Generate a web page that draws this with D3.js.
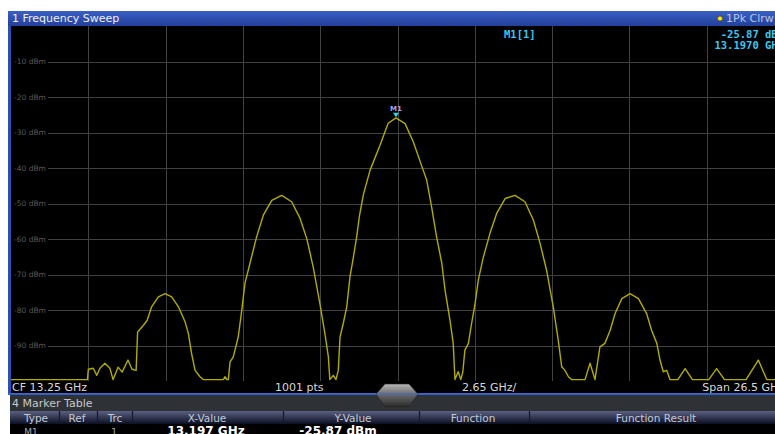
<!DOCTYPE html>
<html lang="en">
<head>
<meta charset="utf-8"/>
<title>Frequency Sweep</title>
<script src="https://d3js.org/d3.v7.min.js"></script>
<style>
  body { margin: 0; background: #fff; }
  svg { display: block; font-family: "DejaVu Sans", sans-serif; }
</style>
</head>
<body>
<div id="chart"></div>
<script>
// trace (GHz, dBm)
var freqGHz = [0, 2.62, 2.65, 2.82, 2.94, 3.05, 3.22, 3.39, 3.50, 3.67, 3.81, 4.01, 4.15, 4.29, 4.34, 4.54, 4.67, 4.82,
  5.05, 5.28, 5.51, 5.74, 5.97, 6.08, 6.19, 6.31, 6.48, 6.59, 7.28, 7.34, 7.40, 7.45, 7.51, 7.62, 7.79, 7.91, 8.02,
  8.19, 8.42, 8.65, 8.94, 9.28, 9.62, 9.91, 10.14, 10.36, 10.59, 10.76, 10.88, 10.93, 11.05, 11.14, 11.22, 11.28,
  11.39, 11.51, 11.62, 11.73, 11.85, 11.94, 12.08, 12.31, 12.65, 12.93, 13.197, 13.51, 13.79, 14.13, 14.25, 14.42,
  14.59, 14.77, 14.88, 15.05, 15.16, 15.22, 15.33, 15.42, 15.49, 15.56, 15.68, 15.79, 15.91, 16.02, 16.19, 16.42,
  16.65, 16.94, 17.28, 17.62, 17.91, 18.14, 18.36, 18.59, 18.76, 18.88, 18.99, 19.11, 19.22, 19.68, 19.85, 20.02,
  20.19, 20.36, 20.54, 20.71, 20.94, 21.22, 21.51, 21.79, 21.96, 22.14, 22.25, 22.36, 22.48, 22.59, 22.86, 23.11,
  23.36, 23.92, 24.19, 24.46, 25.20, 25.62, 25.91, 26.5];
var levelDbm = [-99.6, -99.6, -96.7, -96.4, -98.4, -96.4, -95.0, -96.4, -99.6, -96.1, -97.5, -94.1, -96.7, -97.0, -86.2, -84.3, -82.9, -79.1,
  -76.3, -75.4, -76.3, -79.1, -83.4, -86.6, -92.2, -97.0, -98.8, -99.6, -99.6, -98.8, -99.6, -99.6, -94.6, -93.2, -87.6, -80.1, -72.5,
  -66.9, -59.4, -53.3, -49.1, -47.7, -49.5, -54.2, -59.9, -67.9, -78.2, -86.6, -93.2, -99.6, -98.4, -99.6, -97.0, -87.6,
  -83.8, -79.1, -70.7, -65.5, -59.4, -53.8, -47.5, -40.6, -33.6, -27.4, -25.87, -27.5, -32.6, -40.6, -43.4, -51.0,
  -59.4, -66.9, -74.4, -82.9, -89.4, -99.6, -97.4, -99.6, -97.4, -91.3, -89.4, -83.8, -78.2, -71.6, -65.2, -58.4,
  -52.8, -48.6, -47.7, -49.5, -54.7, -61.3, -68.8, -79.1, -88.5, -96.0, -97.0, -98.8, -99.6, -99.6, -95.0, -99.6,
  -90.4, -89.4, -85.7, -81.0, -76.8, -75.4, -76.8, -81.0, -85.7, -89.4, -94.1, -97.4, -97.0, -99.6, -99.6, -96.5,
  -99.6, -99.6, -96.5, -99.6, -99.6, -94.1, -99.6, -99.6];

var levelTicks = [-10, -20, -30, -40, -50, -60, -70, -80, -90];
var freqGrid = [2.65, 5.3, 7.95, 10.6, 13.25, 15.9, 18.55, 21.2, 23.85];

var marker = {name: "M1", freq: 13.197, level: -25.87};
var tableHeads = ["Type", "Ref", "Trc", "X-Value", "Y-Value", "Function", "Function Result"];
var tableRow = ["M1", "", "1", "13.197 GHz", "-25.87 dBm", "", ""];

var W = 775, H = 434;
var svg = d3.select("#chart").append("svg").attr("width", W).attr("height", H);

var x = d3.scaleLinear().domain([0, 26.5]).range([11, 784]);
var y = d3.scaleLinear().domain([0, -100]).range([26, 381]);

var defs = svg.append("defs");
var tg = defs.append("linearGradient").attr("id", "titleg").attr("x1", 0).attr("y1", 0).attr("x2", 0).attr("y2", 1);
tg.append("stop").attr("offset", 0).attr("stop-color", "#3a5fc4");
tg.append("stop").attr("offset", 1).attr("stop-color", "#22409a");
var hg = defs.append("linearGradient").attr("id", "headg").attr("x1", 0).attr("y1", 0).attr("x2", 0).attr("y2", 1);
hg.append("stop").attr("offset", 0).attr("stop-color", "#5a6080");
hg.append("stop").attr("offset", 1).attr("stop-color", "#0c1024");
var kg = defs.append("linearGradient").attr("id", "knobg").attr("x1", 0).attr("y1", 0).attr("x2", 0).attr("y2", 1);
kg.append("stop").attr("offset", 0).attr("stop-color", "#b8b8b8");
kg.append("stop").attr("offset", 0.45).attr("stop-color", "#6a6a6a");
kg.append("stop").attr("offset", 1).attr("stop-color", "#2a2a2a");
defs.append("clipPath").attr("id", "plotclip").append("rect")
  .attr("x", 11).attr("y", 26).attr("width", 773).attr("height", 355);

// frame
svg.append("rect").attr("x", 8).attr("y", 11).attr("width", W - 8).attr("height", 384).attr("fill", "#2c4fb0");
svg.append("rect").attr("x", 8).attr("y", 11).attr("width", W - 8).attr("height", 15).attr("fill", "url(#titleg)");
svg.append("rect").attr("x", 11).attr("y", 26).attr("width", W - 11).attr("height", 367).attr("fill", "#000");

svg.append("text").attr("x", 12).attr("y", 22).attr("fill", "#f0f0f8").attr("font-size", 11)
  .text("1 Frequency Sweep");
svg.append("circle").attr("cx", 720).attr("cy", 18.5).attr("r", 2.6).attr("fill", "#f0e020")
  .attr("stroke", "#404020").attr("stroke-width", 0.8);
svg.append("text").attr("x", 726).attr("y", 22).attr("fill", "#b8c4e8").attr("font-size", 11).text("1Pk Clrw");

// grid
var grid = svg.append("g").attr("stroke", "#424242").attr("stroke-width", 1);
grid.selectAll("line.v").data(freqGrid).enter().append("line")
  .attr("x1", function(d) { return Math.round(x(d)) + 0.5; })
  .attr("x2", function(d) { return Math.round(x(d)) + 0.5; })
  .attr("y1", 26).attr("y2", 381);
grid.selectAll("line.h").data(levelTicks).enter().append("line")
  .attr("x1", 48).attr("x2", W)
  .attr("y1", function(d) { return Math.round(y(d)) + 0.5; })
  .attr("y2", function(d) { return Math.round(y(d)) + 0.5; });

svg.append("g").selectAll("text").data(levelTicks).enter().append("text")
  .attr("x", 14).attr("y", function(d) { return y(d); }).attr("dy", "0.35em")
  .attr("font-size", 7.5).attr("fill", "#5a5a5a")
  .text(function(d) { return d + " dBm"; });

// trace
var pts = freqGHz.map(function(f, i) { return [f, levelDbm[i]]; });
var line = d3.line().x(function(d) { return x(d[0]); }).y(function(d) { return y(d[1]); });
svg.append("path").datum(pts).attr("clip-path", "url(#plotclip)")
  .attr("d", line).attr("fill", "none").attr("stroke", "#b0ac00").attr("stroke-width", 1.4)
  .attr("stroke-linejoin", "round");

// marker
var mx = x(marker.freq), my = y(marker.level);
svg.append("path").attr("d", "M" + (mx - 3) + "," + (my - 5) + "L" + (mx + 3) + "," + (my - 5) + "L" + mx + "," + (my - 0.5) + "Z")
  .attr("fill", "#30d8e8");
svg.append("text").attr("x", mx).attr("y", my - 7).attr("text-anchor", "middle")
  .attr("font-size", 7).attr("font-weight", "bold").attr("fill", "#a8a0f0").text(marker.name);

var mono = "'DejaVu Sans Mono', monospace";
svg.append("text").attr("x", 504).attr("y", 38).attr("font-family", mono).attr("font-weight", "bold")
  .attr("font-size", 10.5).attr("fill", "#38c8f0").text("M1[1]");
svg.append("text").attr("x", 784).attr("y", 38).attr("text-anchor", "end").attr("font-family", mono)
  .attr("font-weight", "bold").attr("font-size", 10.5).attr("fill", "#38c8f0").text(marker.level.toFixed(2) + " dBm");
svg.append("text").attr("x", 784).attr("y", 49).attr("text-anchor", "end").attr("font-family", mono)
  .attr("font-weight", "bold").attr("font-size", 10.5).attr("fill", "#38c8f0").text(marker.freq.toFixed(4) + " GHz");

// footer of the sweep
var foot = svg.append("g").attr("font-size", 11).attr("fill", "#d8d8d8");
foot.append("text").attr("x", 12).attr("y", 391).text("CF 13.25 GHz");
foot.append("text").attr("x", 275).attr("y", 391).text("1001 pts");
foot.append("text").attr("x", 462).attr("y", 391).text("2.65 GHz/");
foot.append("text").attr("x", 784).attr("y", 391).attr("text-anchor", "end").text("Span 26.5 GHz");
svg.append("rect").attr("x", 8).attr("y", 393).attr("width", W - 8).attr("height", 1.6).attr("fill", "#3a6ad0");

// marker table
svg.append("rect").attr("x", 10).attr("y", 395).attr("width", W - 10).attr("height", 16).attr("fill", "#2e3236");
svg.append("text").attr("x", 12).attr("y", 407).attr("font-size", 11).attr("fill", "#c8c8c8").text("4 Marker Table");
svg.append("rect").attr("x", 10).attr("y", 411).attr("width", W - 10).attr("height", 13).attr("fill", "url(#headg)");
svg.append("rect").attr("x", 10).attr("y", 424).attr("width", W - 10).attr("height", 10).attr("fill", "#000");

var colEdges = [10, 59, 97, 132, 283, 419, 529, 800];
svg.append("g").selectAll("line").data(colEdges.slice(1, -1)).enter().append("line")
  .attr("x1", function(d) { return d + 0.5; }).attr("x2", function(d) { return d + 0.5; })
  .attr("y1", 411).attr("y2", 424).attr("stroke", "#15182a").attr("stroke-width", 1.2);

var headX = [36, 77, 115, 207, 353, 473, 656];
svg.append("g").selectAll("text").data(tableHeads).enter().append("text")
  .attr("x", function(d, i) { return headX[i]; }).attr("y", 422).attr("text-anchor", "middle")
  .attr("font-size", 10.5).attr("fill", "#c4cad8").text(function(d) { return d; });

var rowX = [31, 77, 114, 206, 338, 473, 656];
svg.append("g").selectAll("text").data(tableRow).enter().append("text")
  .attr("x", function(d, i) { return rowX[i]; }).attr("y", 434.5).attr("text-anchor", "middle")
  .attr("font-size", function(d, i) { return i >= 3 ? 12 : 9; })
  .attr("font-weight", function(d, i) { return i >= 3 ? "bold" : "normal"; })
  .attr("fill", function(d, i) { return i >= 3 ? "#ffffff" : "#a8a8a8"; })
  .text(function(d) { return d; });

// splitter handle
var kx = 397;
svg.append("path")
  .attr("d", "M" + (kx - 12) + ",384L" + (kx + 12) + ",384L" + (kx + 21) + ",394L" + (kx + 12) + ",407L" + (kx - 12) + ",407L" + (kx - 21) + ",394Z")
  .attr("fill", "url(#knobg)").attr("stroke", "#222").attr("stroke-width", 0.6);
svg.append("line").attr("x1", kx - 21).attr("x2", kx + 21).attr("y1", 394).attr("y2", 394)
  .attr("stroke", "#3a6ad0").attr("stroke-width", 1.2);
</script>
</body>
</html>
